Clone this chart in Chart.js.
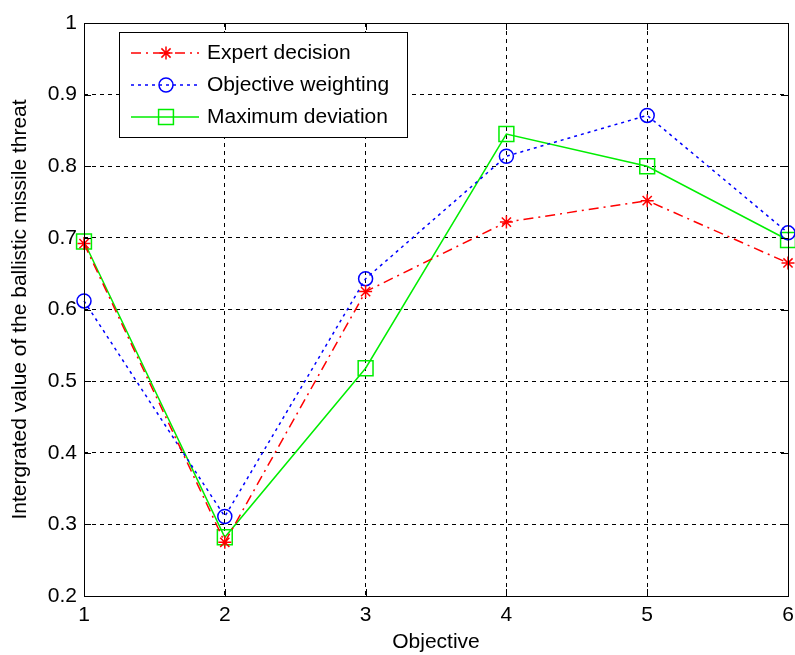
<!DOCTYPE html>
<html>
<head>
<meta charset="utf-8">
<script src="https://cdn.jsdelivr.net/npm/chart.js@4.4.1/dist/chart.umd.min.js"></script>
<style>
  html, body { margin: 0; padding: 0; background: #fff; }
  canvas { display: block; }
</style>
</head>
<body>
<canvas id="threatChart" width="795" height="655"></canvas>
<script>
// values
const objectives = [1, 2, 3, 4, 5, 6];
const expertDecision = [0.692, 0.275, 0.625, 0.722, 0.752, 0.665];
const objectiveWeighting = [0.612, 0.311, 0.643, 0.814, 0.871, 0.707];
const maximumDeviation = [0.695, 0.282, 0.518, 0.845, 0.800, 0.697];
const seriesNames = ['Expert decision', 'Objective weighting', 'Maximum deviation'];
const yTickValues = [0.2, 0.3, 0.4, 0.5, 0.6, 0.7, 0.8, 0.9, 1];

const FONT = "'Liberation Sans', Arial, sans-serif";

function toPoints(ys) {
    return objectives.map((x, i) => ({ x: x, y: ys[i] }));
}

function drawMarker(ctx, style, x, y, r, color) {
    ctx.save();
    ctx.strokeStyle = color;
    ctx.lineWidth = 1.5;
    ctx.setLineDash([]);
    ctx.beginPath();
    if (style === 'circle') {
        ctx.arc(x, y, r, 0, Math.PI * 2);
    } else if (style === 'rect') {
        const s = r * Math.SQRT1_2;
        ctx.rect(x - s, y - s, s * 2, s * 2);
    } else if (style === 'star') {
        for (let k = 0; k < 4; k++) {
            const a = k * Math.PI / 4;
            ctx.moveTo(x - Math.cos(a) * r, y - Math.sin(a) * r);
            ctx.lineTo(x + Math.cos(a) * r, y + Math.sin(a) * r);
        }
    }
    ctx.stroke();
    ctx.restore();
}

// matlab style box: solid frame + inward tick marks on all four sides
const axesBox = {
    id: 'axesBox',
    afterDatasetsDraw(chart) {
        const { ctx, chartArea: a, scales } = chart;
        const tl = 7;
        ctx.save();
        ctx.strokeStyle = '#000';
        ctx.lineWidth = 1;
        ctx.setLineDash([]);
        ctx.beginPath();
        objectives.forEach(v => {
            const px = Math.round(scales.x.getPixelForValue(v)) + 0.5;
            ctx.moveTo(px, a.bottom); ctx.lineTo(px, a.bottom - tl);
            ctx.moveTo(px, a.top); ctx.lineTo(px, a.top + tl);
        });
        yTickValues.forEach(v => {
            const py = Math.round(scales.y.getPixelForValue(v)) + 0.5;
            ctx.moveTo(a.left, py); ctx.lineTo(a.left + tl, py);
            ctx.moveTo(a.right, py); ctx.lineTo(a.right - tl, py);
        });
        ctx.stroke();
        ctx.strokeRect(Math.round(a.left) + 0.5, Math.round(a.top) + 0.5,
            Math.round(a.right - a.left), Math.round(a.bottom - a.top));
        ctx.restore();
    }
};

// legend box like the matlab one, line sample with marker in the middle
const boxLegend = {
    id: 'boxLegend',
    afterDraw(chart) {
        const ctx = chart.ctx;
        const bx = 119.5, by = 32.5, bw = 288, bh = 105;
        ctx.save();
        ctx.fillStyle = '#fff';
        ctx.fillRect(bx, by, bw, bh);
        ctx.strokeStyle = '#000';
        ctx.lineWidth = 1;
        ctx.strokeRect(bx, by, bw, bh);
        ctx.font = '21px ' + FONT;
        ctx.textBaseline = 'middle';
        ctx.textAlign = 'left';
        chart.data.datasets.forEach((ds, i) => {
            const y = 53 + i * 32;
            ctx.strokeStyle = ds.borderColor;
            ctx.lineWidth = ds.borderWidth;
            ctx.setLineDash(ds.borderDash || []);
            ctx.beginPath();
            ctx.moveTo(131, y);
            ctx.lineTo(199, y);
            ctx.stroke();
            drawMarker(ctx, ds.pointStyle, 166, y, ds.pointRadius, ds.borderColor);
            ctx.fillStyle = '#000';
            ctx.fillText(ds.label, 207, y);
        });
        ctx.restore();
    }
};

const ctx = document.getElementById('threatChart').getContext('2d');
const threatChart = new Chart(ctx, {
    type: 'line',
    data: {
        datasets: [
            {
                label: seriesNames[0],
                data: toPoints(expertDecision),
                borderColor: '#ff0000',
                borderWidth: 1.5,
                borderDash: [10, 5, 2, 5],
                pointStyle: 'star',
                pointRadius: 6.5,
                pointBorderWidth: 1.5,
                pointBackgroundColor: 'transparent',
                fill: false,
                tension: 0,
                clip: false
            },
            {
                label: seriesNames[1],
                data: toPoints(objectiveWeighting),
                borderColor: '#0000ff',
                borderWidth: 1.5,
                borderDash: [3, 4],
                pointStyle: 'circle',
                pointRadius: 7,
                pointBorderWidth: 1.5,
                pointBackgroundColor: 'transparent',
                fill: false,
                tension: 0,
                clip: false
            },
            {
                label: seriesNames[2],
                data: toPoints(maximumDeviation),
                borderColor: '#00ee00',
                borderWidth: 1.5,
                borderDash: [],
                pointStyle: 'rect',
                pointRadius: 10.5,
                pointBorderWidth: 1.5,
                pointBackgroundColor: 'transparent',
                fill: false,
                tension: 0,
                clip: false
            }
        ]
    },
    options: {
        responsive: false,
        animation: false,
        layout: { autoPadding: false, padding: { top: 23, right: 7, left: 0, bottom: 0 } },
        plugins: {
            legend: { display: false },
            tooltip: { enabled: false }
        },
        scales: {
            x: {
                type: 'linear',
                min: 1,
                max: 6,
                afterFit: function(scale) {
                    scale.height = 59;
                    scale.paddingLeft = 0;
                    scale.paddingRight = 0;
                },
                afterBuildTicks: function(scale) {
                    scale.ticks = objectives.map(v => ({ value: v }));
                },
                ticks: {
                    color: '#000',
                    padding: 7,
                    maxRotation: 0,
                    font: { family: FONT, size: 21 },
                    callback: v => String(v)
                },
                grid: {
                    color: '#000',
                    lineWidth: 1,
                    drawTicks: false
                },
                border: { display: false, dash: [4, 4] },
                title: {
                    display: true,
                    text: 'Objective',
                    color: '#000',
                    font: { family: FONT, size: 21 },
                    padding: { top: 0, bottom: 0 }
                }
            },
            y: {
                min: 0.2,
                max: 1,
                afterFit: function(scale) {
                    scale.width = 84;
                    scale.paddingTop = 0;
                    scale.paddingBottom = 0;
                },
                afterBuildTicks: function(scale) {
                    scale.ticks = yTickValues.map(v => ({ value: v }));
                },
                ticks: {
                    color: '#000',
                    padding: 7,
                    font: { family: FONT, size: 21 },
                    callback: v => String(Math.round(v * 10) / 10)
                },
                grid: {
                    color: '#000',
                    lineWidth: 1,
                    drawTicks: false
                },
                border: { display: false, dash: [4, 4] },
                title: {
                    display: true,
                    text: 'Intergrated value of the ballistic missile threat',
                    color: '#000',
                    font: { family: FONT, size: 21 },
                    padding: { top: 8, bottom: 0 }
                }
            }
        }
    },
    plugins: [axesBox, boxLegend]
});
</script>
</body>
</html>
